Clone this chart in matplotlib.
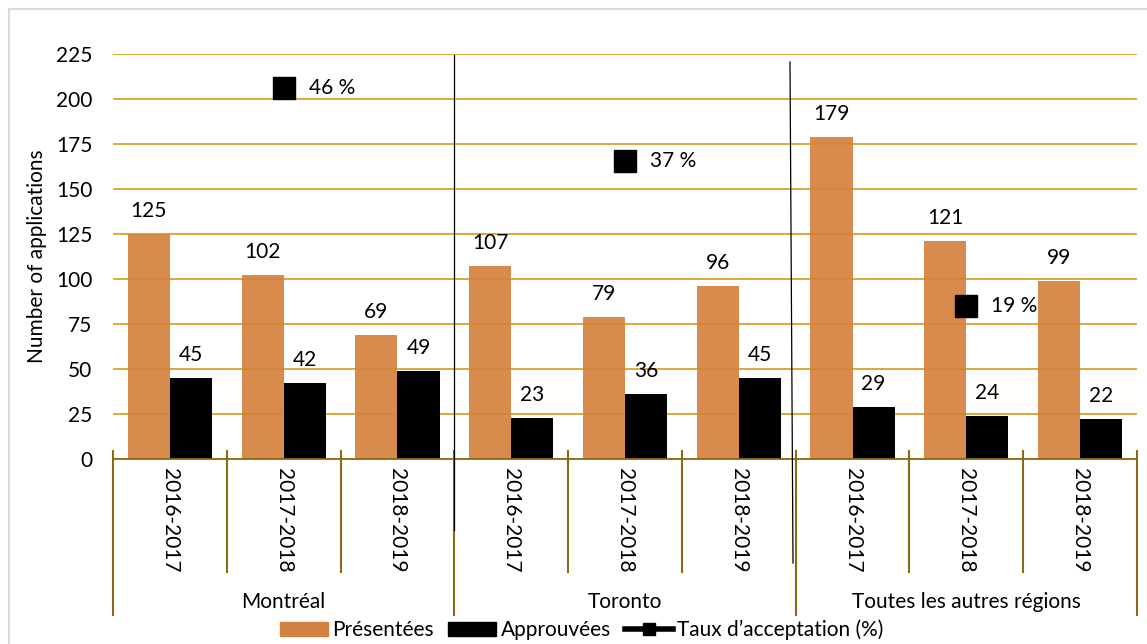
import matplotlib
matplotlib.use("Agg")
import matplotlib.pyplot as plt
from matplotlib.lines import Line2D
from matplotlib.patches import Patch
import matplotlib.transforms as mtransforms

plt.rcParams['font.family'] = ['Lato', 'DejaVu Sans']

regions = ["Montréal", "Toronto", "Toutes les autres régions"]
years = ["2016-2017", "2017-2018", "2018-2019"]
presentees = [125, 102, 69, 107, 79, 96, 179, 121, 99]
approuvees = [45, 42, 49, 23, 36, 45, 29, 24, 22]
taux = [46, 37, 19]
yticks = [0, 25, 50, 75, 100, 125, 150, 175, 200, 225]

ORANGE = "#D4823F"
GRID = "#D4A52A"
AXC = "#8A6A14"
FS = 15

fig = plt.figure(figsize=(11.47, 6.44), dpi=100)
ax = fig.add_axes([113/1147, 1-459/644, (1137-113)/1147, (459-54)/644])

n = len(presentees)
bw = 0.37
for i in range(n):
    ax.bar(i + 0.13, presentees[i], width=bw, align='edge', color=ORANGE, alpha=0.92, zorder=2)
    ax.bar(i + 0.5, approuvees[i], width=bw, align='edge', color='black', zorder=2)
    ax.annotate(str(presentees[i]), (i + 0.13 + bw/2, presentees[i]), xytext=(0, 16.5),
                textcoords='offset points', ha='center', va='center', fontsize=FS)
    ax.annotate(str(approuvees[i]), (i + 0.5 + bw/2, approuvees[i]), xytext=(0, 16.5),
                textcoords='offset points', ha='center', va='center', fontsize=FS)

ax.set_xlim(0, n)
ax.set_ylim(0, 225)
ax.set_yticks(yticks)
ax.set_yticklabels([str(v) for v in yticks], fontsize=FS)
ax.tick_params(axis='y', length=0, pad=15)
ax.set_xticks([])
ax.yaxis.grid(True, color=GRID, lw=1.3, zorder=0)
ax.set_axisbelow(True)
for s in ['left', 'right', 'top']:
    ax.spines[s].set_visible(False)
ax.spines['bottom'].set_color(AXC)
ax.spines['bottom'].set_linewidth(1.3)
ax.set_ylabel("Number of applications", fontsize=FS, labelpad=6)

# multi-level x axis
trans = mtransforms.blended_transform_factory(ax.transData, ax.transAxes)
for b in range(n + 1):
    low = -0.385 if b % 3 == 0 else -0.279
    ax.plot([b, b], [0.02, low], transform=trans, color=AXC, lw=1.5, clip_on=False, zorder=3)
for i in range(n):
    ax.text(i + 0.5, -0.152, years[i % 3], transform=trans, rotation=270,
            ha='center', va='center', fontsize=FS)
for g, r in enumerate(regions):
    ax.text(3*g + 1.5, -0.353, r, transform=trans, ha='center', va='center', fontsize=FS)

# acceptance rate on secondary axis
ax2 = ax.twinx()
ax2.set_ylim(0, 225/4.475)
ax2.axis('off')
xs = [1.5, 4.5, 7.5]
ax2.plot(xs, taux, linestyle='none', marker='s', markersize=16, color='black', zorder=4)
for x, t in zip(xs, taux):
    ax2.annotate(f"{t} %", (x, t), xytext=(18, 0), textcoords='offset points',
                 ha='left', va='center', fontsize=FS)

# thin vertical separator lines (figure pixels)
fig.add_artist(Line2D([454/1147, 454/1147], [1-55/644, 1-530/644], color='black', lw=0.9))
fig.add_artist(Line2D([790/1147, 793/1147], [1-62/644, 1-563/644], color='black', lw=0.9))

# light border
fig.add_artist(Line2D([9/1147, 1], [1-9/644, 1-9/644], color='#D9D9D9', lw=1.5))
fig.add_artist(Line2D([9/1147, 9/1147], [0, 1-9/644], color='#D9D9D9', lw=1.5))

handles = [Patch(color=ORANGE), Patch(color='black'),
           Line2D([0], [0], color='black', lw=4, marker='s', markersize=9)]
labels = ["Présentées", "Approuvées", "Taux d’acceptation (%)"]
fig.legend(handles, labels, loc='center', bbox_to_anchor=(582/1147, 1-630/644), ncol=3,
           frameon=False, fontsize=FS, handlelength=2.3, handleheight=0.7,
           handletextpad=0.2, columnspacing=0.7)

fig.savefig("out.png", dpi=100)
